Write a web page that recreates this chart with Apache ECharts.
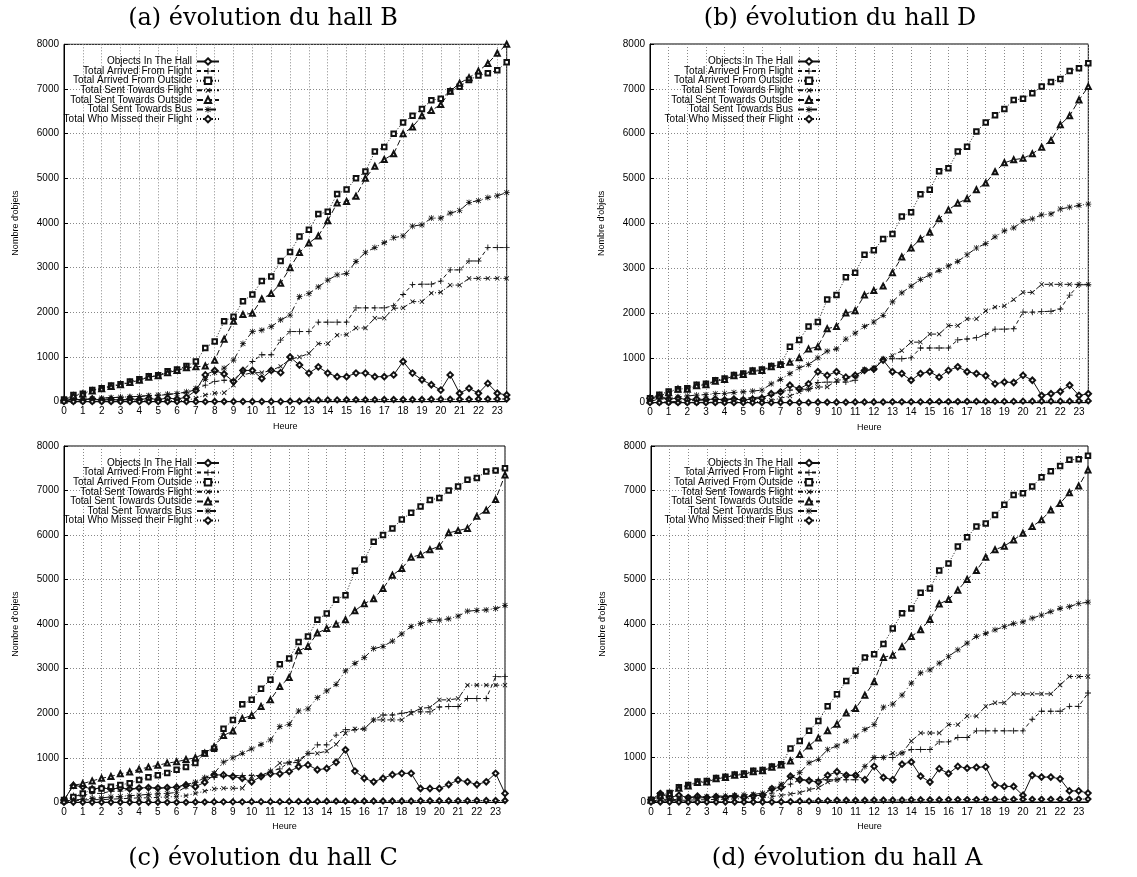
<!DOCTYPE html>
<html><head><meta charset="utf-8">
<script src="https://cdn.jsdelivr.net/npm/echarts@6/dist/echarts.min.js"></script>
<style>html,body{margin:0;background:#fff}#c{width:1137px;height:877px}</style>
</head><body><div id="c"></div><script>
const hours = [0,0.5,1,1.5,2,2.5,3,3.5,4,4.5,5,5.5,6,6.5,7,7.5,8,8.5,9,9.5,10,10.5,11,11.5,12,12.5,13,13.5,14,14.5,15,15.5,16,16.5,17,17.5,18,18.5,19,19.5,20,20.5,21,21.5,22,22.5,23,23.5];
const seriesNames = ['Objects In The Hall','Total Arrived From Flight','Total Arrived From Outside','Total Sent Towards Flight','Total Sent Towards Outside','Total Sent Towards Bus','Total Who Missed their Flight'];
const xTicks = [0,1,2,3,4,5,6,7,8,9,10,11,12,13,14,15,16,17,18,19,20,21,22,23];
const yTicks = [0,1000,2000,3000,4000,5000,6000,7000,8000];

// (a) hall B
const aObjects = [30,60,40,60,40,50,40,60,50,70,50,80,60,100,250,600,700,620,450,700,700,520,700,650,1000,820,640,780,640,560,560,640,640,560,560,600,900,640,490,380,260,600,190,300,190,410,190,150];
const aArrFlight = [10,30,50,70,80,90,100,110,120,130,140,160,180,200,280,370,450,480,480,700,900,1050,1050,1380,1570,1570,1570,1780,1780,1780,1780,2100,2100,2100,2100,2150,2400,2620,2630,2630,2700,2950,2950,3150,3150,3450,3450,3450];
const aArrOutside = [50,150,180,260,300,360,390,450,500,570,590,680,720,800,900,1200,1350,1800,1900,2250,2400,2700,2800,3150,3350,3700,3850,4200,4250,4650,4750,5000,5150,5600,5700,6000,6250,6400,6550,6750,6780,6950,7050,7200,7300,7350,7420,7600];
const aSentFlight = [0,0,0,10,10,10,10,15,15,20,20,20,25,30,80,150,190,200,370,600,650,650,700,790,950,1000,1080,1300,1300,1490,1500,1650,1650,1870,1870,2090,2100,2240,2240,2430,2450,2610,2610,2760,2760,2760,2760,2760];
const aSentOutside = [40,130,170,240,290,340,380,430,480,550,580,650,700,760,780,800,930,1400,1800,1950,1980,2300,2420,2650,3000,3340,3550,3710,4050,4450,4480,4600,5000,5270,5420,5550,6000,6150,6400,6520,6650,6950,7130,7250,7400,7570,7800,8000];
const aSentBus = [20,40,50,70,80,90,100,110,120,140,150,170,180,220,300,500,650,750,930,1300,1570,1600,1680,1830,1940,2350,2420,2570,2720,2840,2870,3140,3340,3450,3560,3670,3710,3930,3960,4110,4110,4220,4280,4460,4500,4570,4610,4680];
const aMissed = [0,0,0,0,0,0,0,0,0,0,0,0,0,0,0,0,5,5,5,5,5,5,5,5,10,10,30,35,40,40,45,45,45,45,50,50,50,50,50,55,55,55,55,55,60,60,60,60];

// (b) hall D
const bObjects = [100,150,80,100,70,80,70,80,60,80,60,80,100,200,240,390,310,420,690,610,690,570,610,720,750,950,690,650,500,650,690,570,720,800,690,650,600,420,460,450,610,500,160,200,250,390,160,200];
const bArrFlight = [0,10,20,30,40,50,60,70,80,90,100,110,130,160,250,280,300,300,450,460,460,460,500,720,730,980,980,980,1000,1220,1220,1220,1220,1400,1420,1450,1520,1640,1640,1650,2020,2020,2030,2040,2090,2400,2630,2630];
const bArrOutside = [100,180,250,300,320,400,420,500,540,620,650,720,740,820,850,1250,1400,1700,1800,2300,2400,2800,2900,3300,3400,3650,3760,4150,4250,4650,4750,5160,5230,5600,5710,6050,6250,6410,6550,6750,6780,6900,7050,7150,7220,7400,7460,7570];
const bSentFlight = [0,0,0,5,5,5,10,10,10,15,15,20,30,50,100,150,240,300,350,350,500,520,600,750,780,980,1050,1160,1350,1350,1530,1530,1720,1720,1870,1870,2050,2130,2160,2300,2460,2460,2640,2640,2640,2640,2640,2640];
const bSentOutside = [60,150,220,300,300,380,400,480,520,600,630,700,720,800,850,900,1000,1200,1250,1650,1700,2000,2050,2400,2500,2600,2900,3250,3450,3650,3800,4100,4300,4450,4550,4750,4900,5150,5350,5420,5450,5550,5700,5850,6200,6400,6750,7050];
const bSentBus = [30,80,100,130,150,170,180,200,210,230,240,260,280,420,520,650,780,850,1000,1150,1200,1420,1550,1700,1800,1950,2250,2450,2600,2750,2850,2950,3050,3150,3300,3450,3550,3700,3830,3900,4050,4100,4190,4210,4320,4360,4400,4430];
const bMissed = [0,0,0,0,0,0,0,0,0,0,0,0,0,0,5,5,5,5,10,10,10,10,15,15,15,15,20,20,20,20,25,25,25,25,30,30,30,30,30,30,35,35,35,35,35,35,40,40];

// (c) hall C
const cObjects = [50,380,350,300,320,300,320,300,320,330,320,330,340,390,350,450,615,615,580,540,460,580,640,640,690,800,840,730,760,900,1180,700,540,460,540,620,650,650,310,310,310,400,500,460,400,460,650,200];
const cArrFlight = [20,150,150,200,200,250,250,300,300,320,320,320,350,400,450,550,560,580,600,600,600,600,700,750,900,950,1100,1290,1290,1510,1630,1630,1650,1850,1960,1960,2000,2030,2030,2030,2140,2150,2150,2330,2330,2330,2820,2820];
const cArrOutside = [50,120,200,280,310,350,390,430,500,560,610,660,730,790,880,1100,1200,1650,1850,2200,2300,2550,2750,3100,3230,3600,3720,4100,4240,4550,4650,5200,5450,5850,6000,6150,6350,6500,6640,6790,6830,7000,7090,7240,7280,7430,7450,7500];
const cSentFlight = [0,30,50,60,60,70,80,90,100,100,110,120,130,150,200,250,300,315,315,315,580,590,700,880,880,900,1100,1100,1150,1300,1550,1650,1650,1850,1850,1850,1850,2000,2110,2130,2300,2300,2330,2630,2630,2630,2630,2630];
const cSentOutside = [50,380,420,480,540,580,640,680,740,790,830,880,910,960,1000,1100,1250,1500,1600,1880,1950,2150,2300,2600,2800,3400,3500,3800,3900,4000,4100,4300,4460,4570,4800,5100,5250,5500,5560,5670,5750,6050,6100,6150,6420,6560,6800,7350];
const cSentBus = [30,50,70,90,100,120,130,150,160,180,190,200,220,350,450,550,650,900,1000,1100,1200,1300,1400,1700,1750,2050,2100,2350,2500,2650,2950,3120,3250,3450,3500,3620,3780,3950,4010,4080,4090,4120,4180,4290,4310,4320,4350,4420];
const cMissed = [0,0,0,0,0,0,0,0,0,0,0,0,0,0,5,5,10,10,10,10,15,15,15,15,20,20,20,20,25,25,25,25,30,30,30,30,30,30,35,35,35,35,35,35,40,40,40,40];

// (d) hall A
const dObjects = [50,190,100,150,100,130,100,120,100,130,100,140,150,300,330,580,500,480,450,600,680,600,600,500,800,550,500,850,900,580,450,750,640,800,760,780,790,380,350,350,150,600,560,560,520,250,250,200];
const dArrFlight = [10,30,50,60,80,90,100,110,120,130,140,145,150,200,300,400,500,500,500,500,500,500,500,800,1000,1000,1000,1100,1180,1180,1180,1350,1350,1450,1450,1600,1600,1600,1600,1600,1600,1860,2040,2040,2040,2150,2150,2450];
const dArrOutside = [50,150,200,330,380,460,470,540,570,620,640,700,720,800,850,1200,1370,1600,1820,2150,2420,2720,2950,3250,3320,3550,3900,4240,4350,4700,4800,5200,5360,5740,5950,6190,6260,6450,6680,6900,6940,7090,7300,7430,7550,7690,7700,7780];
const dSentFlight = [0,20,30,40,40,50,50,60,60,70,70,80,90,120,150,180,210,280,320,450,500,600,600,800,1000,1000,1100,1100,1370,1550,1550,1550,1740,1740,1930,1930,2150,2230,2230,2430,2430,2430,2430,2430,2630,2820,2820,2820];
const dSentOutside = [40,140,190,310,360,440,450,520,550,600,620,680,700,780,830,920,1070,1260,1440,1600,1750,2000,2100,2400,2700,3250,3300,3490,3720,3870,4100,4450,4550,4760,5000,5200,5500,5670,5750,5890,6040,6190,6340,6560,6710,6950,7100,7460];
const dSentBus = [20,50,70,90,100,110,120,130,140,150,160,170,200,300,400,550,660,880,960,1180,1260,1370,1480,1630,1740,2130,2200,2400,2670,2900,2970,3120,3270,3420,3570,3720,3790,3870,3940,4010,4050,4130,4200,4280,4350,4390,4460,4490];
const dMissed = [0,0,0,0,0,0,0,0,0,0,0,0,0,0,5,10,20,20,30,30,40,40,40,40,45,45,45,45,50,50,50,50,55,55,55,55,60,60,60,60,60,60,60,60,60,60,65,65];

const panelTitles = ['(a) évolution du hall B','(b) évolution du hall D','(c) évolution du hall C','(d) évolution du hall A'];
const panelData = [
  [aObjects,aArrFlight,aArrOutside,aSentFlight,aSentOutside,aSentBus,aMissed],
  [bObjects,bArrFlight,bArrOutside,bSentFlight,bSentOutside,bSentBus,bMissed],
  [cObjects,cArrFlight,cArrOutside,cSentFlight,cSentOutside,cSentBus,cMissed],
  [dObjects,dArrFlight,dArrOutside,dSentFlight,dSentOutside,dSentBus,dMissed]
];

// layout (pixels)
const layout = [
  {left:64, top:44.3, width:442.7, height:357.4, tx:263, ty:19, legRight:917, legTop:56.5},
  {left:650, top:44, width:438.3, height:358.7, tx:840, ty:19, legRight:316, legTop:56.5},
  {left:64, top:446, width:441, height:356.3, tx:263, ty:859, legRight:917, legTop:458},
  {left:651, top:446, width:437, height:356, tx:847, ty:859, legRight:316, legTop:458}
];

const plusPath = 'path://M4.3,0h1.4v4.3h4.3v1.4h-4.3v4.3h-1.4v-4.3h-4.3v-1.4h4.3z';
const starPath = 'path://M4.4,0h1.2v4.4h4.4v1.2h-4.4v4.4h-1.2v-4.4h-4.4v-1.2h4.4z M0.6,1.4L1.4,0.6L9.4,8.6L8.6,9.4z M8.6,0.6L9.4,1.4L1.4,9.4L0.6,8.6z';
const styles = [
  {symbol:'emptyDiamond', size:5.5, rot:0, line:'solid'},
  {symbol:plusPath, size:6, rot:0, line:[4,3]},
  {symbol:'emptyRect', size:4.5, rot:0, line:[1,2]},
  {symbol:plusPath, size:6, rot:45, line:[5,2,1,2]},
  {symbol:'emptyTriangle', size:5, rot:0, line:[6,3]},
  {symbol:starPath, size:6, rot:0, line:[6,3,1,3]},
  {symbol:'emptyDiamond', size:5, rot:0, line:[1,2]}
];

const font = 'Liberation Sans';
const grids=[], xAxes=[], yAxes=[], legends=[], series=[], graphics=[];
layout.forEach((L,p)=>{
  grids.push({left:L.left, top:L.top, width:L.width, height:L.height, show:true, borderColor:'#000', borderWidth:1, backgroundColor:'transparent'});
  xAxes.push({type:'value', gridIndex:p, min:xTicks[0], max:23.5, interval:1,
    name:'Heure', nameLocation:'middle', nameGap:20, nameTextStyle:{fontFamily:font, fontSize:9, color:'#000'},
    axisLine:{show:true, onZero:false, lineStyle:{color:'#000', width:1}},
    axisTick:{show:true, inside:true, length:4, lineStyle:{color:'#000'}},
    axisLabel:{fontFamily:font, fontSize:10, color:'#000', margin:5, showMaxLabel:false, formatter:v=>String(v)},
    splitLine:{show:true, lineStyle:{color:'#888', type:[1,2], width:1}}});
  yAxes.push({type:'value', gridIndex:p, min:yTicks[0], max:yTicks[yTicks.length-1], interval:1000,
    name:"Nombre d'objets", nameLocation:'middle', nameGap:44, nameRotate:90, nameTextStyle:{fontFamily:font, fontSize:9, color:'#000'},
    axisLine:{show:true, lineStyle:{color:'#000', width:1}},
    axisTick:{show:true, inside:true, length:4, lineStyle:{color:'#000'}},
    axisLabel:{fontFamily:font, fontSize:10, color:'#000', margin:5, formatter:v=>String(v)},
    splitLine:{show:true, lineStyle:{color:'#888', type:[1,2], width:1}}});
  legends.push({orient:'vertical', align:'right', right:L.legRight, top:L.legTop, padding:0,
    itemWidth:22, itemHeight:8, itemGap:-0.4, selectedMode:false, backgroundColor:'transparent',
    textStyle:{fontFamily:font, fontSize:10, lineHeight:8, color:'#000'}, data:seriesNames.slice()});
  graphics.push({type:'text', x:L.tx, y:L.ty, style:{text:panelTitles[p], font:'24px "DejaVu Serif"', fill:'#000', textAlign:'center', textVerticalAlign:'middle'}});
  panelData[p].forEach((vals,k)=>{
    const st = styles[k];
    series.push({type:'line', name:seriesNames[k], xAxisIndex:p, yAxisIndex:p,
      data: hours.map((h,i)=>[h, vals[i]]),
      symbol:st.symbol, symbolSize:st.size, symbolRotate:st.rot, showSymbol:true,
      lineStyle:{color:'#111', width:1, type:st.line},
      itemStyle:{color:'#111', borderColor:'#111', borderWidth: st.symbol.startsWith('path') ? 0 : 0.8},
      emphasis:{disabled:true}, animation:false, z: 2 + k});
  });
});

const chart = echarts.init(document.getElementById('c'), null, {renderer:'canvas'});
chart.setOption({backgroundColor:'#fff', animation:false, grid:grids, xAxis:xAxes, yAxis:yAxes, legend:legends, series:series, graphic:graphics});
</script></body></html>
